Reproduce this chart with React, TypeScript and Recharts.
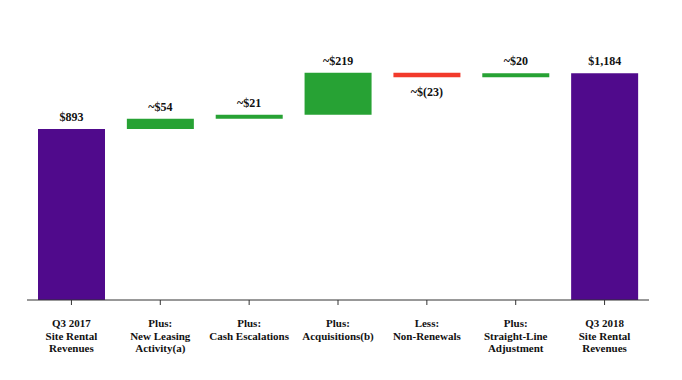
import { BarChart, Bar, XAxis, YAxis, Cell, LabelList } from 'recharts';

const categories = [
    'Q3 2017\nSite Rental\nRevenues',
    'Plus:\nNew Leasing\nActivity(a)',
    'Plus:\nCash Escalations',
    'Plus:\nAcquisitions(b)',
    'Less:\nNon-Renewals',
    'Plus:\nStraight-Line\nAdjustment',
    'Q3 2018\nSite Rental\nRevenues'
];
const changes = [893, 54, 21, 219, -23, 20, 1184];
const kinds = ['total', 'up', 'up', 'up', 'down', 'up', 'total'];
const valueLabels = ['$893', '~$54', '~$21', '~$219', '~$(23)', '~$20', '$1,184'];

const colors: Record<string, string> = {
    total: '#500a8c',
    up: '#27a234',
    down: '#f23a2b'
};

const FONT = "'Liberation Serif', Tinos, 'Times New Roman', serif";

// running totals -> invisible base + visible step
let running = 0;
const data = categories.map((name, i) => {
    const v = changes[i];
    const kind = kinds[i];
    let base = 0;
    let size = v;
    if (kind === 'total') {
        running = v;
    } else if (kind === 'up') {
        base = running;
        running += v;
    } else {
        running += v;
        base = running;
        size = -v;
    }
    return { name, base, size, kind, label: valueLabels[i] };
});

const CategoryTick = (props: any) => {
    const { x, y, payload } = props;
    const lines = String(payload.value).split('\n');
    return (
        <text x={x} y={y + 20} textAnchor="middle" style={{ fontFamily: FONT, fontWeight: 700, fontSize: 11 }} fill="#111">
            {lines.map((l, i) => (
                <tspan key={i} x={x} dy={i === 0 ? 0 : 12.7}>{l}</tspan>
            ))}
        </text>
    );
};

const ValueLabel = (props: any) => {
    const { x, y, width, height, index } = props;
    const d = data[index];
    const below = d.kind === 'down';
    return (
        <text
            x={x + width / 2}
            y={below ? y + height + 19 : y - 8}
            textAnchor="middle"
            style={{ fontFamily: FONT, fontWeight: 700, fontSize: 12 }}
            fill="#111"
        >
            {d.label}
        </text>
    );
};

export default function App() {
    return (
        <div style={{ position: 'absolute', left: 0, top: 0, width: 682, height: 380, background: '#fff', fontFamily: FONT }}>
            <BarChart width={682} height={380} data={data} margin={{ top: 32, right: 33, left: 27, bottom: 50 }} barSize={67}>
                <XAxis
                    dataKey="name"
                    interval={0}
                    height={30}
                    stroke="#333"
                    tickSize={5}
                    tick={<CategoryTick />}
                />
                <YAxis hide domain={[0, 1400]} />
                <Bar dataKey="base" stackId="w" fill="transparent" isAnimationActive={false} />
                <Bar dataKey="size" stackId="w" isAnimationActive={false}>
                    {data.map((d, i) => (
                        <Cell key={`c-${i}`} fill={colors[d.kind]} />
                    ))}
                    <LabelList dataKey="size" content={<ValueLabel />} />
                </Bar>
            </BarChart>
        </div>
    );
}
